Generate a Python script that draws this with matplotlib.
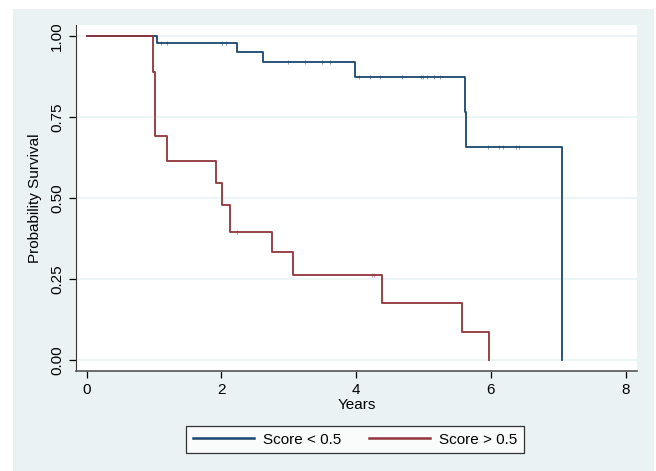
import numpy as np
import matplotlib.pyplot as plt
from matplotlib.patches import Rectangle

plt.rcParams['font.family'] = ['Liberation Sans', 'DejaVu Sans']

# Kaplan-Meier step data (time of drop, survival after drop)
low_t = [0, 1.04, 2.23, 2.62, 3.99, 5.61, 5.635, 7.05]
low_s = [1.0, 0.980, 0.952, 0.922, 0.875, 0.767, 0.657, 0.0]
low_cens_t = [1.10, 1.19, 2.01, 2.07, 2.99, 3.24, 3.49, 3.61, 4.05, 4.20, 4.36,
              4.68, 4.97, 5.00, 5.06, 5.16, 5.25, 5.96, 6.12, 6.18, 6.38, 6.42]

high_t = [0, 0.98, 1.01, 1.02, 1.19, 1.92, 2.01, 2.13, 2.76, 3.07, 4.38, 5.58, 5.97]
high_s = [1.0, 0.891, 0.794, 0.692, 0.615, 0.546, 0.479, 0.397, 0.333, 0.264, 0.177, 0.087, 0.0]
high_cens_t = [2.23, 4.23, 4.26]

blue = '#1a476f'
red = '#90353b'
bg = '#eaf2f3'

fig = plt.figure(figsize=(6.56, 4.71), dpi=100)
fig.patches.append(Rectangle((13 / 656, 0), (654 - 13) / 656, 1 - 9 / 471,
                             transform=fig.transFigure, facecolor=bg,
                             edgecolor='none', zorder=-10))

ax = fig.add_axes([76 / 656, 1 - 371 / 471, (637 - 76) / 656, (371 - 25) / 471])
ax.set_facecolor('white')


def surv_at(ts, ss, t):
    i = np.searchsorted(ts, t, side='right') - 1
    return ss[i]


ax.step(low_t, low_s, where='post', color=blue, lw=1.3, label='Score < 0.5')
ax.step(high_t, high_s, where='post', color=red, lw=1.3, label='Score > 0.5')

# censoring marks
ax.plot(low_cens_t, [surv_at(low_t, low_s, t) for t in low_cens_t], ls='none',
        marker='|', ms=3, mew=0.6, color=blue, alpha=0.6)
ax.plot(high_cens_t, [surv_at(high_t, high_s, t) for t in high_cens_t], ls='none',
        marker='|', ms=3, mew=0.6, color=red, alpha=0.6)

ax.set_xlim(-0.156, 8.17)
ax.set_ylim(-0.033, 1.035)
ax.set_xticks([0, 2, 4, 6, 8])
ax.set_yticks([0, 0.25, 0.5, 0.75, 1.0])
ax.set_yticklabels(['0.00', '0.25', '0.50', '0.75', '1.00'], rotation=90, va='center')
ax.grid(axis='y', color=bg, lw=1.2)
ax.set_axisbelow(True)

for s in ['top', 'right']:
    ax.spines[s].set_visible(False)
ax.spines['left'].set_color('#333333')
ax.spines['bottom'].set_color('#555555')
ax.spines['bottom'].set_linewidth(1.2)
ax.tick_params(direction='out', length=5, width=0.9, labelsize=11, colors='black')

ax.set_xlabel('Years', fontsize=11, labelpad=1)
ax.set_ylabel('Probability Survival', fontsize=11, labelpad=6)

leg = fig.legend(loc='center', bbox_to_anchor=(355 / 656, 1 - 439.5 / 471), ncol=2,
                 fontsize=11, frameon=True, fancybox=False, edgecolor='black',
                 handlelength=4.0, columnspacing=1.8, handletextpad=0.6,
                 borderpad=0.45)
leg.get_frame().set_linewidth(0.9)
leg.get_frame().set_facecolor('white')
for line in leg.get_lines():
    line.set_linewidth(1.8)

fig.savefig('out.png', dpi=100)
